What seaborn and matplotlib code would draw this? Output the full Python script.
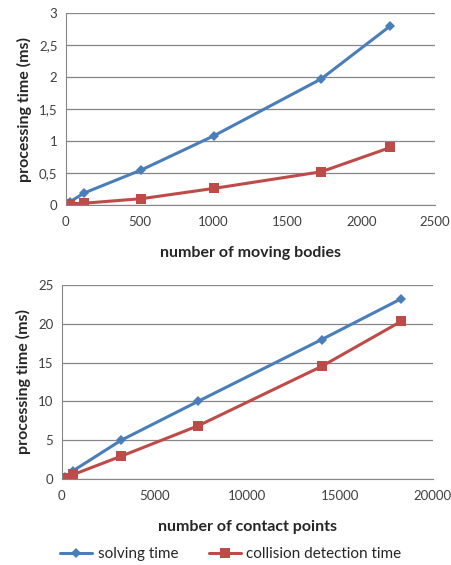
import numpy as np
import pandas as pd
import matplotlib
matplotlib.use('Agg')
import matplotlib.pyplot as plt
import matplotlib.ticker as mticker
import seaborn as sns

# ---------------- data ----------------

bodies = [27, 125, 512, 1000, 1728, 2197]
bodies_solving = [0.05, 0.19, 0.55, 1.08, 1.97, 2.80]
bodies_collision = [0.02, 0.03, 0.10, 0.26, 0.52, 0.90]

contacts = [180, 630, 3200, 7340, 14000, 18290]
contacts_solving = [0.3, 1.1, 5.0, 10.0, 17.95, 23.2]
contacts_collision = [0.1, 0.6, 2.95, 6.85, 14.5, 20.3]

series_names = ['solving time', 'collision detection time']
blue = '#4a7ebb'
red = '#be4b48'

# ---------------- style ----------------

sns.set_style('white')
plt.rcParams['font.family'] = ['Lato', 'DejaVu Sans']
plt.rcParams['axes.edgecolor'] = '#868686'

fig = plt.figure(figsize=(4.51, 5.65), dpi=100)
ax1 = fig.add_axes([0.146, 0.637, 0.819, 0.340])
ax2 = fig.add_axes([0.137, 0.152, 0.823, 0.344])


def comma_fmt(v, pos):
    s = ('%g' % v)
    return s.replace('.', ',')


def draw(ax, x, solving, collision, xlabel, xmax, ymax, ystep, xstep):
    df = pd.DataFrame({'x': x + x,
                       'y': solving + collision,
                       'series': [series_names[0]] * len(x) + [series_names[1]] * len(x)})
    sns.lineplot(data=df, x='x', y='y', hue='series', style='series',
                 markers={series_names[0]: 'D', series_names[1]: 's'},
                 dashes=False, palette={series_names[0]: blue, series_names[1]: red},
                 markersize=7, linewidth=2.2, markeredgewidth=0, ax=ax, legend=False)
    for line, ms in zip(ax.lines, [5.5, 7.5]):
        line.set_markersize(ms)
    ax.set_xlim(0, xmax)
    ax.set_ylim(0, ymax)
    ax.xaxis.set_major_locator(mticker.MultipleLocator(xstep))
    ax.yaxis.set_major_locator(mticker.MultipleLocator(ystep))
    ax.yaxis.set_major_formatter(mticker.FuncFormatter(comma_fmt))
    ax.grid(axis='y', color='#868686', linewidth=0.9)
    ax.set_axisbelow(True)
    for side in ['top', 'right']:
        ax.spines[side].set_visible(False)
    ax.tick_params(axis='both', labelsize=9.5, colors='#404040', length=0, pad=6)
    ax.tick_params(axis='x', length=4, direction='out', color='#868686', pad=4)
    ax.set_xlabel(xlabel, fontsize=11.5, fontweight='bold', labelpad=13)
    ax.set_ylabel('processing time (ms)', fontsize=11.5, fontweight='bold', labelpad=5)


draw(ax1, bodies, bodies_solving, bodies_collision, 'number of moving bodies', 2500, 3, 0.5, 500)
draw(ax2, contacts, contacts_solving, contacts_collision, 'number of contact points', 20000, 25, 5, 5000)

# legend below the second chart
handles = [plt.Line2D([], [], color=blue, marker='D', markersize=5.5, linewidth=2.2, markeredgewidth=0),
           plt.Line2D([], [], color=red, marker='s', markersize=7.5, linewidth=2.2, markeredgewidth=0)]
fig.legend(handles, series_names, loc='center', bbox_to_anchor=(0.512, 0.019), ncol=2,
           frameon=False, fontsize=11, handlelength=2.1, handletextpad=0.35, columnspacing=2.0,
           borderpad=0)

fig.savefig('out.png', dpi=100)
